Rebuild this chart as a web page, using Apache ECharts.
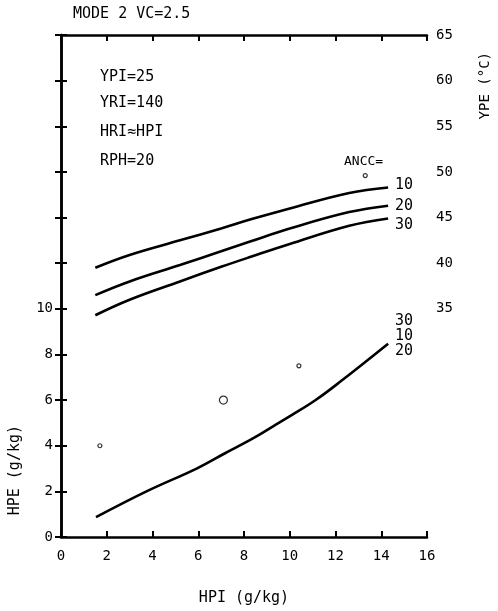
<!DOCTYPE html>
<html><head><meta charset="utf-8">
<script src="https://cdn.jsdelivr.net/npm/echarts@6/dist/echarts.min.js"></script>
<style>html,body{margin:0;padding:0;background:#fff}#c{width:498px;height:611px}</style>
</head><body><div id="c"></div>
<script>
// Upper curves (YPE, right axis) for ANCC = 10, 20, 30
const hpiUpper = [1.5, 3.0, 5.2, 7.0, 8.3, 10.0, 12.6, 14.3];
const ypeAncc10 = [39.5, 40.9, 42.5, 43.8, 44.8, 46.0, 47.7, 48.3];
const ypeAncc20 = [36.5, 38.0, 39.8, 41.3, 42.4, 43.8, 45.6, 46.3];
const ypeAncc30 = [34.3, 36.0, 38.0, 39.6, 40.7, 42.1, 44.1, 44.9];
// Lower curve (HPE, left axis) – ANCC 30/10/20 coincide
const hpiLower = [1.53, 3.76, 5.95, 7.17, 8.39, 9.27, 10.1, 11.1, 12.2, 14.3];
const hpeLower = [0.87, 2.01, 3.01, 3.67, 4.32, 4.85, 5.35, 5.98, 6.80, 8.47];
// stray circle marks on the scan
const marksHpe = [[7.1, 6.0, 8], [1.7, 4.0, 4], [10.4, 7.5, 4]];
const marksYpe = [[13.3, 49.6, 4]];
const xTicks = [0, 2, 4, 6, 8, 10, 12, 14, 16];
const leftLabels = [0, 2, 4, 6, 8, 10];
const rightLabels = [35, 40, 45, 50, 55, 60, 65];

const FONT = '"DejaVu Sans Mono", monospace';
const zip = (a, b) => a.map((v, i) => [v, b[i]]);
const chart = echarts.init(document.getElementById('c'));
const lineStyle = {color: '#000', width: 2.6};
const txt = (x, y, s, extra) => Object.assign({type: 'text', left: x, top: y,
  style: {text: s, font: '15px ' + FONT, fill: '#000'}}, extra || {});

chart.setOption({
  animation: false,
  backgroundColor: '#fff',
  grid: {left: 61, right: 71, top: 35, bottom: 72},
  xAxis: [{
    type: 'value', min: 0, max: 16, interval: 2, position: 'bottom',
    axisLine: {lineStyle: {color: '#000', width: 2.5}},
    axisTick: {inside: true, length: 6, lineStyle: {color: '#000', width: 2}},
    axisLabel: {color: '#000', fontFamily: FONT, fontSize: 14, margin: 12,
      formatter: v => xTicks.includes(v) ? String(v) : ''},
    splitLine: {show: false},
    name: 'HPI (g/kg)', nameLocation: 'middle', nameGap: 54,
    nameTextStyle: {color: '#000', fontFamily: FONT, fontSize: 15}
  }, {
    type: 'value', min: 0, max: 16, interval: 2, position: 'top',
    axisLine: {lineStyle: {color: '#000', width: 2.5}},
    axisTick: {inside: true, length: 6, lineStyle: {color: '#000', width: 2}},
    axisLabel: {show: false}, splitLine: {show: false}
  }],
  yAxis: [{
    type: 'value', min: 0, max: 22, interval: 2, position: 'left',
    axisLine: {show: true, lineStyle: {color: '#000', width: 2.5}},
    axisTick: {show: true, inside: true, length: 6, lineStyle: {color: '#000', width: 2}},
    axisLabel: {color: '#000', fontFamily: FONT, fontSize: 14, margin: 8,
      formatter: v => leftLabels.includes(v) ? String(v) : ''},
    splitLine: {show: false}
  }, {
    type: 'value', min: 10, max: 65, interval: 5, position: 'right',
    axisLine: {show: true, lineStyle: {color: '#000', width: 2.5}},
    axisTick: {show: true, inside: true, length: 6, lineStyle: {color: '#000', width: 2}},
    axisLabel: {color: '#000', fontFamily: FONT, fontSize: 14, margin: 9,
      formatter: v => rightLabels.includes(v) ? String(v) : ''},
    splitLine: {show: false}
  }],
  series: [
    {type: 'line', yAxisIndex: 1, data: zip(hpiUpper, ypeAncc10), smooth: 0.4, symbol: 'none', lineStyle},
    {type: 'line', yAxisIndex: 1, data: zip(hpiUpper, ypeAncc20), smooth: 0.4, symbol: 'none', lineStyle},
    {type: 'line', yAxisIndex: 1, data: zip(hpiUpper, ypeAncc30), smooth: 0.4, symbol: 'none', lineStyle},
    {type: 'line', yAxisIndex: 0, data: zip(hpiLower, hpeLower), smooth: 0.4, symbol: 'none', lineStyle},
    {type: 'scatter', yAxisIndex: 0, data: marksHpe, symbol: 'circle', symbolSize: d => d[2],
      itemStyle: {color: '#fff', borderColor: '#000', borderWidth: 1.2}},
    {type: 'scatter', yAxisIndex: 1, data: marksYpe, symbol: 'circle', symbolSize: d => d[2],
      itemStyle: {color: '#fff', borderColor: '#000', borderWidth: 1.2}}
  ],
  graphic: [
    txt(73, 7, 'MODE 2 VC=2.5'),
    txt(100, 70, 'YPI=25'),
    txt(100, 96, 'YRI=140'),
    txt(100, 125, 'HRI≈HPI'),
    txt(100, 154, 'RPH=20'),
    txt(344, 155, 'ANCC=', {style: {text: 'ANCC=', font: '13px ' + FONT, fill: '#000'}}),
    txt(395, 178, '10'), txt(395, 199, '20'), txt(395, 218, '30'),
    txt(395, 314, '30'), txt(395, 329, '10'), txt(395, 344, '20'),
    {type: 'text', left: 478, top: 52, rotation: Math.PI / 2,
      style: {text: 'YPE (°C)', font: '14px ' + FONT, fill: '#000'}},
    {type: 'text', left: 8, top: 425, rotation: Math.PI / 2,
      style: {text: 'HPE (g/kg)', font: '15px ' + FONT, fill: '#000'}}
  ]
});
</script></body></html>
